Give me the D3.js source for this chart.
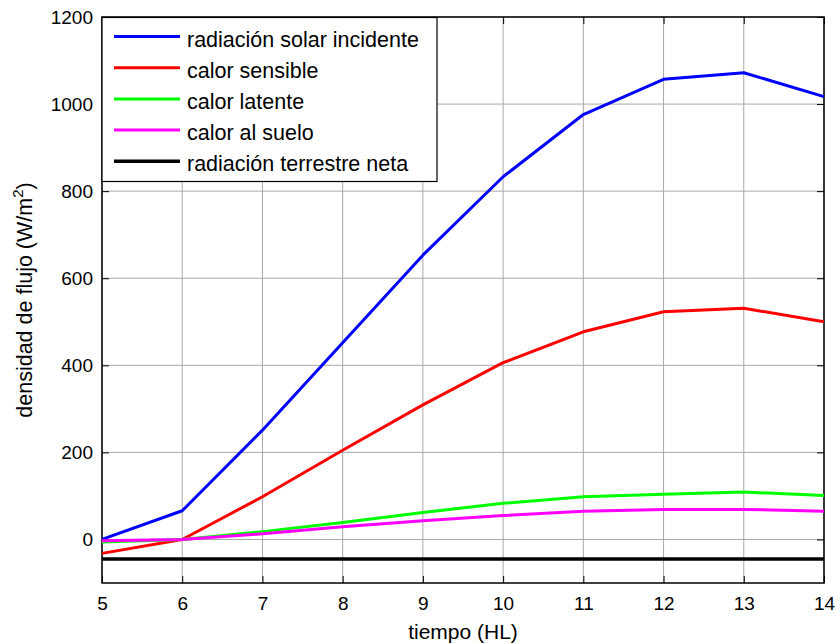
<!DOCTYPE html>
<html><head><meta charset="utf-8">
<script src="https://cdn.jsdelivr.net/npm/d3@7"></script>
<style>
body{margin:0;background:#fff;}
text{font-family:"Liberation Sans",Arial,sans-serif;}
</style></head>
<body><svg id="c" width="839" height="644"></svg>
<script>
const hours = [5,6,7,8,9,10,11,12,13,14];
const solar = [0,66,251,452,653,833,976,1057,1072,1017];
const sensible = [-32,0,98,205,309,406,477,523,531,500];
const latente = [-6,0,18,39,62,83,98,104,109,101];
const suelo = [-3,0,13,29,43,55,65,69,69,65];
const terrestre = [-45,-45,-45,-45,-45,-45,-45,-45,-45,-45];
const seriesNames = ["radiación solar incidente","calor sensible","calor latente","calor al suelo","radiación terrestre neta"];
const seriesColors = ["#0000ff","#ff0000","#00ff00","#ff00ff","#000000"];
const yTicks = [0,200,400,600,800,1000,1200];
const xTicks = [5,6,7,8,9,10,11,12,13,14];

const svg = d3.select("#c");
const L=102,R=824,T=17,B=583;
const x = d3.scaleLinear().domain([5,14]).range([L,R]);
const y = d3.scaleLinear().domain([-100,1200]).range([B,T]);
const FF = "'Liberation Sans',Arial,sans-serif";

// grid
const g = svg.append("g");
g.selectAll(".vx").data(xTicks).enter().append("line")
 .attr("x1",d=>x(d)).attr("x2",d=>x(d)).attr("y1",T).attr("y2",B)
 .attr("stroke","#a8a8a8").attr("stroke-width",1);
g.selectAll(".hy").data(yTicks).enter().append("line")
 .attr("x1",L).attr("x2",R).attr("y1",d=>y(d)).attr("y2",d=>y(d))
 .attr("stroke","#a8a8a8").attr("stroke-width",1);

// axes
const fmt = d3.format("d");
const xa = svg.append("g").attr("transform",`translate(0,${B})`)
 .call(d3.axisBottom(x).tickValues(xTicks).tickFormat(fmt).tickSizeInner(-7).tickSizeOuter(0).tickPadding(14));
const xaT = svg.append("g").attr("transform",`translate(0,${T})`)
 .call(d3.axisTop(x).tickValues(xTicks).tickSizeInner(-7).tickSizeOuter(0).tickFormat(""));
const ya = svg.append("g").attr("transform",`translate(${L},0)`)
 .call(d3.axisLeft(y).tickValues(yTicks).tickFormat(fmt).tickSizeInner(-7).tickSizeOuter(0).tickPadding(9));
const yaR = svg.append("g").attr("transform",`translate(${R},0)`)
 .call(d3.axisRight(y).tickValues(yTicks).tickSizeInner(-7).tickSizeOuter(0).tickFormat(""));
[xa,xaT,ya,yaR].forEach(a=>{
  a.select(".domain").remove();
  a.selectAll("line").attr("stroke","#000");
  a.selectAll("text").attr("font-size",19).attr("fill","#000").style("font-family",FF);
});
svg.append("rect").attr("x",L).attr("y",T).attr("width",R-L).attr("height",B-T)
 .attr("fill","none").attr("stroke","#000").attr("stroke-width",1.5);

// lines
const data = [solar,sensible,latente,suelo,terrestre];
const line = d3.line().x((d,i)=>x(hours[i])).y(d=>y(d));
data.forEach((s,k)=>{
  svg.append("path").datum(s).attr("d",line).attr("fill","none")
   .attr("stroke",seriesColors[k]).attr("stroke-width",k===4?3.4:3).attr("stroke-linejoin","round");
});

// legend
const lg = svg.append("g");
lg.append("rect").attr("x",L).attr("y",T+0.5).attr("width",335).attr("height",164)
 .attr("fill","#fff").attr("stroke","#000").attr("stroke-width",1.2);
seriesNames.forEach((n,i)=>{
  const yy = 36.5 + i*31.2;
  lg.append("line").attr("x1",114).attr("x2",180).attr("y1",yy).attr("y2",yy)
   .attr("stroke",seriesColors[i]).attr("stroke-width",i===4?3.4:3);
  lg.append("text").attr("x",187).attr("y",yy+10).attr("font-size",21.5).text(n);
});

// axis labels
svg.append("text").attr("x",(L+R)/2).attr("y",639).attr("text-anchor","middle").attr("font-size",21).text("tiempo (HL)");
const yl = svg.append("text").attr("transform",`translate(32,${(T+B)/2}) rotate(-90)`).attr("text-anchor","middle").attr("font-size",21.5);
yl.append("tspan").text("densidad de flujo (W/m");
yl.append("tspan").attr("dy",-9).attr("font-size",15).text("2");
yl.append("tspan").attr("dy",9).text(")");
</script></body></html>
